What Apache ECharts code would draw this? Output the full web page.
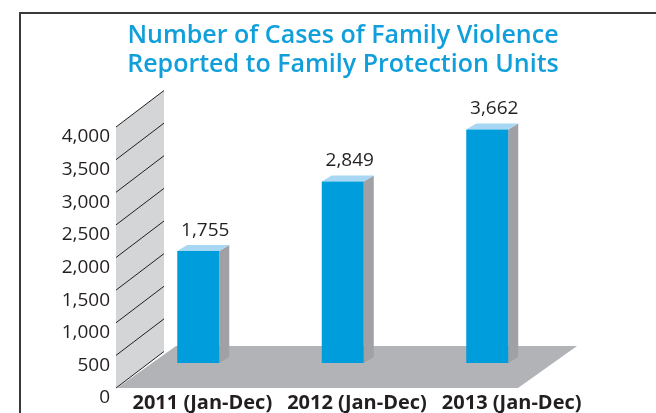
<!DOCTYPE html>
<html><head><meta charset="utf-8">
<script src="https://cdn.jsdelivr.net/npm/echarts@6/dist/echarts.min.js"></script>
<style>html,body{margin:0;padding:0;background:#fff}#c{width:656px;height:413px}</style>
</head><body><div id="c"></div>
<script>
// ---- data ----
const categories = ['2011 (Jan-Dec)', '2012 (Jan-Dec)', '2013 (Jan-Dec)'];
const cases = [1755, 2849, 3662];
const yTicks = [0, 500, 1000, 1500, 2000, 2500, 3000, 3500, 4000];
const yMin = 0, yMax = 4000, yStep = 500;
const titleLines = ['Number of Cases of Family Violence', 'Reported to Family Protection Units'];

// ---- styling ----
const FONT = '"Open Sans", "Noto Sans", sans-serif';
const fmt = v => Number(v).toLocaleString('en-US');
const WALL_D = [48, -36.5];
const FLOOR_D = [59, -42];
const BAR_D = [10, -6];

const chart = echarts.init(document.getElementById('c'), null, {renderer: 'canvas'});

const option = {
  animation: false,
  backgroundColor: '#ffffff',
  title: {
    text: titleLines.join('\n'),
    left: 343, top: 21, textAlign: 'center', padding: 0,
    textStyle: {fontFamily: FONT, fontSize: 25, fontWeight: 600, color: '#109fda', lineHeight: 29}
  },
  graphic: [{
    type: 'rect', silent: true, z: -10,
    shape: {x: 20, y: 13, width: 700, height: 500},
    style: {fill: 'none', stroke: '#3a3a3a', lineWidth: 2}
  }],
  grid: [
    {left: 125, top: 127, width: 464, height: 263},
    {left: 126, top: 108, width: 433.5, height: 255}
  ],
  xAxis: [
    {type: 'category', gridIndex: 0, data: categories,
     axisLine: {show: false}, axisTick: {show: false}, splitLine: {show: false},
     axisLabel: {margin: 5, fontFamily: FONT, fontSize: 20, fontWeight: 'bold', color: '#231f20', interval: 0}},
    {type: 'category', gridIndex: 1, data: categories, show: false}
  ],
  yAxis: [
    {type: 'value', gridIndex: 0, min: yMin, max: yMax, interval: yStep,
     axisLine: {show: false}, axisTick: {show: false}, splitLine: {show: false},
     axisLabel: {margin: 15, fontFamily: FONT, fontSize: 19, color: '#231f20',
                 verticalAlign: 'top', lineHeight: 20, formatter: v => fmt(v)}},
    {type: 'value', gridIndex: 1, min: yMin, max: yMax, interval: yStep, show: false}
  ],
  series: [
    { // floor and back wall
      type: 'custom', xAxisIndex: 0, yAxisIndex: 0, silent: true, z: 1,
      data: [[0, yMin]],
      renderItem: function (params, api) {
        const cs = params.coordSys;
        const y0 = api.coord([0, yMin])[1];
        const yT = api.coord([0, yMax])[1];
        const fx = cs.x - 9;
        const fl = cs.x - 8, fr = cs.x + 393;
        return {type: 'group', children: [
          {type: 'polygon', shape: {points: [[fl, y0], [fr, y0], [fr + FLOOR_D[0], y0 + FLOOR_D[1]], [fl + FLOOR_D[0], y0 + FLOOR_D[1]]]},
           style: {fill: '#b1b3b6'}},
          {type: 'polygon', shape: {points: [[fx, y0], [fx, yT], [fx + WALL_D[0], yT + WALL_D[1]], [fx + WALL_D[0], y0 + WALL_D[1]]]},
           style: {fill: '#d4d5d7'}}
        ]};
      }
    },
    { // wall tick lines
      type: 'custom', xAxisIndex: 0, yAxisIndex: 0, silent: true, z: 2,
      data: yTicks.map(v => [0, v]),
      renderItem: function (params, api) {
        const cs = params.coordSys;
        const y = api.coord([0, api.value(1)])[1];
        const fx = cs.x - 9;
        return {type: 'line', shape: {x1: fx, y1: y, x2: fx + WALL_D[0], y2: y + WALL_D[1]},
                style: {stroke: '#231f20', lineWidth: 1}};
      }
    },
    { // 3D bars
      type: 'custom', name: 'Cases', xAxisIndex: 1, yAxisIndex: 1, z: 3,
      data: cases.map((v, i) => [i, v]),
      renderItem: function (params, api) {
        const top = api.coord([api.value(0), api.value(1)]);
        const base = api.coord([api.value(0), 0]);
        const w = 42;
        const l = top[0] - w / 2, r = top[0] + w / 2;
        const t = top[1], b = base[1];
        return {type: 'group', children: [
          {type: 'polygon', shape: {points: [[r, t], [r + BAR_D[0], t + BAR_D[1]], [r + BAR_D[0], b + BAR_D[1]], [r, b]]},
           style: {fill: '#9fa1a4'}},
          {type: 'polygon', shape: {points: [[l, t], [l + BAR_D[0], t + BAR_D[1]], [r + BAR_D[0], t + BAR_D[1]], [r, t]]},
           style: {fill: '#a8d7f3'}},
          {type: 'rect', shape: {x: l, y: t, width: w, height: b - t}, style: {fill: '#009ddc'}},
          {type: 'text', style: {text: fmt(api.value(1)), x: top[0] + 7, y: t - 21,
            align: 'center', verticalAlign: 'middle', fontFamily: FONT, fontSize: 19, fill: '#231f20'}}
        ]};
      }
    }
  ]
};
chart.setOption(option);
</script>
</body></html>
